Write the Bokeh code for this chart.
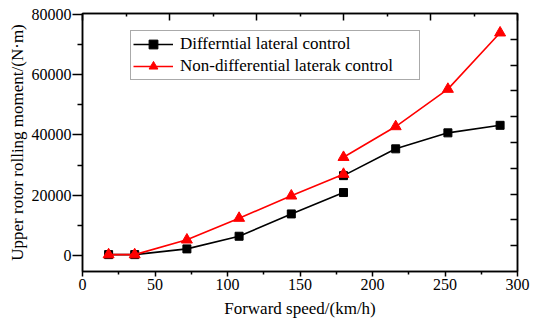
from bokeh.plotting import figure
from bokeh.models import (LinearAxis, Range1d, FixedTicker, NumeralTickFormatter,
                          Legend, LegendItem, ColumnDataSource)
from bokeh.embed import file_html
from bokeh.resources import INLINE

# ---- data ----
speed = [18, 36, 72, 108, 144, 180, 180, 216, 252, 288]
differential = [300, 300, 2200, 6400, 13800, 20900, 26500, 35400, 40700, 43200]
non_differential = [300, 300, 5200, 12400, 19800, 27000, 32600, 42800, 55200, 73900]
segment_break = 6  # the curves are drawn as two separate pieces at 180 km/h
series_names = ["Differntial lateral control", "Non-differential laterak control"]
x_ticks = [0, 50, 100, 150, 200, 250, 300]
y_ticks = [0, 20000, 40000, 60000, 80000]

FONT = "Liberation Serif"

p = figure(width=543, height=328, output_backend="svg", toolbar_location=None,
           x_range=Range1d(0, 300), y_range=Range1d(-5300, 80300),
           x_axis_location=None, y_axis_location=None)
p.min_border_left = 82
p.min_border_right = 26
p.min_border_top = 13
p.min_border_bottom = 57
p.xgrid.visible = False
p.ygrid.visible = False
p.background_fill_color = "white"
p.border_fill_color = "white"
p.outline_line_color = "black"
p.outline_line_width = 1.5

p.extra_x_ranges = {"top": Range1d(0, 10)}
p.extra_y_ranges = {"right": Range1d(0, 10)}

# bottom axis
xa = LinearAxis(ticker=FixedTicker(ticks=x_ticks, minor_ticks=[25, 75, 125, 175, 225, 275]),
                axis_label="Forward speed/(km/h)")
# left axis
ya = LinearAxis(ticker=FixedTicker(ticks=y_ticks, minor_ticks=[10000, 30000, 50000, 70000]),
                axis_label="Upper rotor rolling moment/(N·m)",
                formatter=NumeralTickFormatter(format="0"))
for ax in (xa, ya):
    ax.axis_line_width = 1.5
    ax.major_tick_line_width = 1.5
    ax.minor_tick_line_width = 1.5
    ax.major_tick_in = 0
    ax.minor_tick_in = 0
    ax.major_label_text_font = FONT
    ax.major_label_text_font_size = "16px"
    ax.major_label_text_color = "black"
    ax.axis_label_text_font = FONT
    ax.axis_label_text_font_size = "17px"
    ax.axis_label_text_font_style = "normal"
    ax.axis_label_text_color = "black"
xa.major_tick_out = 5
xa.minor_tick_out = 3
xa.major_label_standoff = 2
xa.axis_label_standoff = 6
ya.major_tick_out = 10
ya.minor_tick_out = 5
ya.major_label_standoff = 1
ya.axis_label_standoff = 2

# top and right frame axes (ticks only, pointing inward, no labels)
top_ticks = [0, 2, 4, 6, 8, 10]
right_ticks = [1, 2, 3, 4, 5, 6, 7, 8, 9]
ta = LinearAxis(x_range_name="top",
                ticker=FixedTicker(ticks=top_ticks, minor_ticks=[1, 3, 5, 7, 9]),
                major_label_overrides={t: "" for t in top_ticks})
ra = LinearAxis(y_range_name="right", ticker=FixedTicker(ticks=right_ticks),
                major_label_overrides={t: "" for t in right_ticks})
for ax in (ta, ra):
    ax.axis_line_width = 1.5
    ax.major_tick_line_width = 1.5
    ax.minor_tick_line_width = 1.5
    ax.major_tick_out = 0
    ax.minor_tick_out = 0
    ax.major_tick_in = 7
    ax.minor_tick_in = 3
    ax.major_label_standoff = 0
ra.minor_tick_line_color = None

p.add_layout(xa, "below")
p.add_layout(ya, "left")
p.add_layout(ta, "above")
p.add_layout(ra, "right")

src = ColumnDataSource(dict(x=speed, d=differential, n=non_differential))
seg1 = ColumnDataSource(dict(x=speed[:segment_break], d=differential[:segment_break],
                             n=non_differential[:segment_break]))
seg2 = ColumnDataSource(dict(x=speed[segment_break:], d=differential[segment_break:],
                             n=non_differential[segment_break:]))

BLACK = "#000000"
RED = "#ff0000"

l1a = p.line("x", "d", source=seg1, color=BLACK, line_width=1.6)
l1b = p.line("x", "d", source=seg2, color=BLACK, line_width=1.6)
s1 = p.scatter("x", "d", source=src, marker="square", size=8, color=BLACK)

l2a = p.line("x", "n", source=seg1, color=RED, line_width=1.6)
l2b = p.line("x", "n", source=seg2, color=RED, line_width=1.6)
s2 = p.scatter("x", "n", source=src, marker="triangle", size=11, color=RED)

legend = Legend(items=[LegendItem(label=series_names[0], renderers=[l1a, s1]),
                       LegendItem(label=series_names[1], renderers=[l2a, s2])],
                location=(48, 191))
legend.label_text_font = FONT
legend.label_text_font_size = "17px"
legend.label_text_color = "black"
legend.glyph_width = 40
legend.glyph_height = 22
legend.label_height = 22
legend.label_standoff = 7
legend.label_width = 237
legend.padding = 2
legend.spacing = 0
legend.margin = 0
legend.border_line_color = "#555555"
legend.border_line_width = 1
legend.background_fill_color = "white"
legend.background_fill_alpha = 1
p.add_layout(legend, "center")

open("out.html", "w").write(file_html(p, INLINE))
